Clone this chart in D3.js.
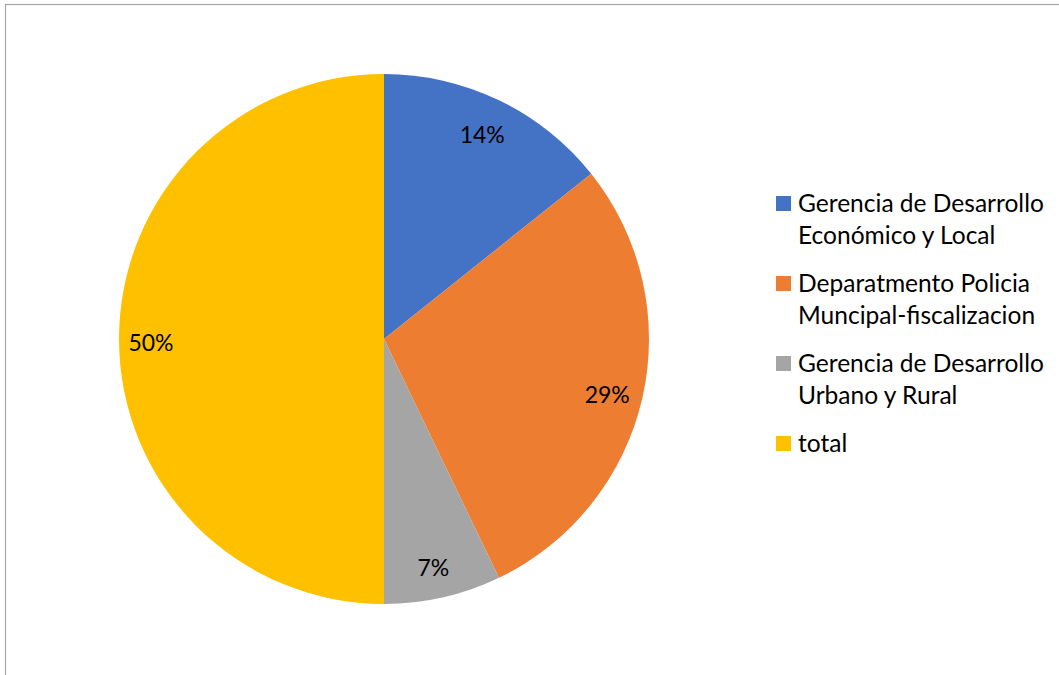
<!DOCTYPE html>
<html>
<head>
<meta charset="utf-8">
<script src="https://cdn.jsdelivr.net/npm/d3@7"></script>
<style>
  html, body { margin: 0; padding: 0; background: #fff; }
  svg { display: block; }
  text { font-family: Lato, "Open Sans", "Liberation Sans", sans-serif; fill: #000; }
</style>
</head>
<body>
<svg id="chart" width="1059" height="675"></svg>
<script>
// Dependencies by number of cases
const categories = [
  ["Gerencia de Desarrollo", "Económico y Local"],
  ["Deparatmento Policia", "Muncipal-fiscalizacion"],
  ["Gerencia de Desarrollo", "Urbano y Rural"],
  ["total"]
];
const values = [2, 4, 1, 7];
const colors = ["#4472C4", "#ED7D31", "#A5A5A5", "#FFC000"];

const svg = d3.select("#chart");
const W = 1059, H = 675;

// Chart area frame (open toward the right and bottom edges)
svg.append("rect")
  .attr("x", 5.5).attr("y", 4.5)
  .attr("width", W + 20).attr("height", H + 20)
  .attr("fill", "#fff")
  .attr("stroke", "#a6a6a6")
  .attr("stroke-width", 1.2);

const cx = 384, cy = 339, R = 265, labelR = 231;
const total = d3.sum(values);

const pie = d3.pie().sort(null).value(d => d)(values);
const arc = d3.arc().innerRadius(0).outerRadius(R);
const labelArc = d3.arc().innerRadius(labelR).outerRadius(labelR);

const g = svg.append("g").attr("transform", `translate(${cx},${cy})`);

g.selectAll("path.slice")
  .data(pie)
  .join("path")
  .attr("class", "slice")
  .attr("d", arc)
  .attr("fill", (d, i) => colors[i]);

// Fit legend size to the typeface actually available
function fitSize(str, targetWidth) {
  const t = svg.append("text").attr("font-size", 100).text(str);
  const w = t.node().getComputedTextLength();
  t.remove();
  return 100 * targetWidth / w;
}
const pctFmt = d3.format(".0%");
const labelSize = 23;
const legendSize = fitSize("Gerencia de Desarrollo", 246);

g.selectAll("text.pct")
  .data(pie)
  .join("text")
  .attr("class", "pct")
  .attr("x", d => labelArc.centroid(d)[0] - 2)
  .attr("y", d => labelArc.centroid(d)[1] + 4)
  .attr("dy", "0.36em")
  .attr("text-anchor", "middle")
  .attr("font-size", labelSize)
  .text(d => pctFmt(d.value / total));

// Legend
const legend = svg.append("g").attr("transform", "translate(776,0)");
const entryTop = [196, 276, 356, 436];
const item = legend.selectAll("g.item")
  .data(categories)
  .join("g")
  .attr("class", "item")
  .attr("transform", (d, i) => `translate(0,${entryTop[i]})`);

item.append("rect")
  .attr("x", 0).attr("y", 0)
  .attr("width", 15).attr("height", 15)
  .attr("fill", (d, i) => colors[i]);

item.each(function(lines) {
  const t = d3.select(this).append("text")
    .attr("x", 22).attr("y", 16)
    .attr("font-size", legendSize);
  lines.forEach((ln, j) => {
    t.append("tspan").attr("x", 22).attr("y", 16 + j * 32).text(ln);
  });
});
</script>
</body>
</html>
